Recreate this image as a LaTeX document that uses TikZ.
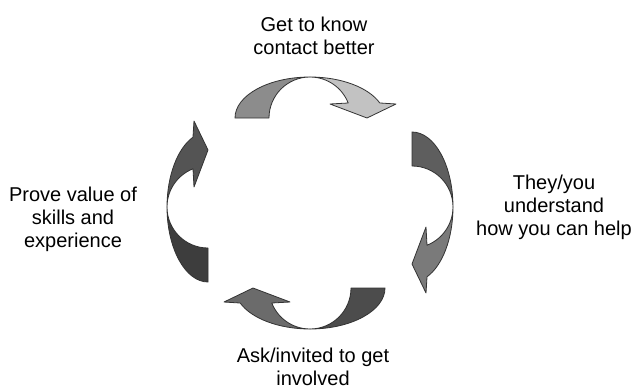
\documentclass[tikz,border=0pt]{standalone}
\usepackage{fontspec}
\setmainfont{Liberation Sans}
\usetikzlibrary{arrows,shapes,backgrounds}

\begin{document}
\begin{tikzpicture}[x=1pt,y=-1pt]
  \tikzstyle{ribbon}=[draw=black!80,line width=0.8pt,line join=round]
  \tikzstyle{step label}=[align=center,inner sep=0pt,anchor=north,
                          font=\fontsize{20}{23}\selectfont]

  \useasboundingbox (0,0) rectangle (633,389);

  % get to know
  \begin{scope}[shift={(310,77)}]
    \filldraw [ribbon,fill=black!45] (-75,41)
      arc[start angle=180,end angle=270,x radius=75,y radius=41]
      arc[start angle=270,end angle=180,radius=41] -- cycle;
    \filldraw [ribbon,fill=black!24] (0,0)
      arc[start angle=270,end angle=338.5,x radius=75,y radius=41]
      -- (86,27) -- (57,41) -- (20,27) -- (38.2,26)
      arc[start angle=338.5,end angle=270,radius=41] -- cycle;
  \end{scope}

  % understand
  \begin{scope}[shift={(453,207)},rotate=-90]
    \filldraw [ribbon,fill=black!63] (-75,41)
      arc[start angle=180,end angle=270,x radius=75,y radius=41]
      arc[start angle=270,end angle=180,radius=41] -- cycle;
    \filldraw [ribbon,fill=black!52] (0,0)
      arc[start angle=270,end angle=338.5,x radius=75,y radius=41]
      -- (86,27) -- (57,41) -- (20,27) -- (38.2,26)
      arc[start angle=338.5,end angle=270,radius=41] -- cycle;
  \end{scope}

  % get involved
  \begin{scope}[shift={(310,329)},rotate=180]
    \filldraw [ribbon,fill=black!70] (-75,41)
      arc[start angle=180,end angle=270,x radius=75,y radius=41]
      arc[start angle=270,end angle=180,radius=41] -- cycle;
    \filldraw [ribbon,fill=black!58] (0,0)
      arc[start angle=270,end angle=338.5,x radius=75,y radius=41]
      -- (86,27) -- (57,41) -- (20,27) -- (38.2,26)
      arc[start angle=338.5,end angle=270,radius=41] -- cycle;
  \end{scope}

  % prove value
  \begin{scope}[shift={(167,207)},rotate=90]
    \filldraw [ribbon,fill=black!76] (-75,41)
      arc[start angle=180,end angle=270,x radius=75,y radius=41]
      arc[start angle=270,end angle=180,radius=41] -- cycle;
    \filldraw [ribbon,fill=black!67] (0,0)
      arc[start angle=270,end angle=338.5,x radius=75,y radius=41]
      -- (86,27) -- (57,41) -- (20,27) -- (38.2,26)
      arc[start angle=338.5,end angle=270,radius=41] -- cycle;
  \end{scope}

  \node [step label] (know) at (314,17) {Get to know\\contact better};
  \node [step label] (understand) at (554,175) {They/you\\understand\\how you can help};
  \node [step label] (involved) at (313,348) {Ask/invited to get\\involved};
  \node [step label] (prove) at (73,187) {Prove value of\\skills and\\experience};
\end{tikzpicture}
\end{document}
